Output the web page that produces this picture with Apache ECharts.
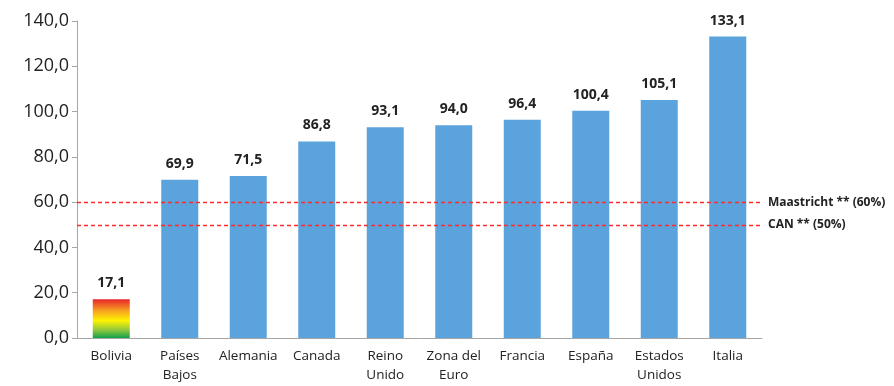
<!DOCTYPE html>
<html>
<head>
<meta charset="utf-8">
<script src="https://cdn.jsdelivr.net/npm/echarts@6/dist/echarts.min.js"></script>
<style>
  html, body { margin: 0; padding: 0; background: #fff; }
  #main { width: 894px; height: 386px; }
</style>
</head>
<body>
<div id="main"></div>
<script>
// categorías y valores (deuda / PIB, %)
const paises = ['Bolivia', 'Países\nBajos', 'Alemania', 'Canada', 'Reino\nUnido', 'Zona del\nEuro', 'Francia', 'España', 'Estados\nUnidos', 'Italia'];
const valores = [17.1, 69.9, 71.5, 86.8, 93.1, 94.0, 96.4, 100.4, 105.1, 133.1];
const limites = [
  { nombre: 'Maastricht ** (60%)', valor: 60 },
  { nombre: 'CAN ** (50%)', valor: 50 }
];

const fuente = '"Open Sans", "Liberation Sans", sans-serif';
const coma = v => v.toFixed(1).replace('.', ',');

const myChart = echarts.init(document.getElementById('main'));

const datos = valores.map((v, i) => {
  if (i === 0) {
    // Bolivia con los colores de la bandera
    return {
      value: v,
      itemStyle: {
        color: new echarts.graphic.LinearGradient(0, 0, 0, 1, [
          { offset: 0, color: '#e8262a' },
          { offset: 0.3, color: '#f6a31f' },
          { offset: 0.55, color: '#fff200' },
          { offset: 0.8, color: '#8cc63f' },
          { offset: 1, color: '#12a14b' }
        ])
      }
    };
  }
  return v;
});

// con ancho 1 o 1.2 la línea de 50 salía apagada, con 1.3 se ve roja
const linea = { color: '#ff2a2a', type: [4, 3], width: 1.3, opacity: 1 };

const option = {
  animation: false,
  grid: { left: 77, right: 132, top: 21, bottom: 48 },
  xAxis: {
    type: 'category',
    data: paises,
    axisLine: { lineStyle: { color: '#a6a6a6' } },
    axisTick: { length: 5, lineStyle: { color: '#a6a6a6' } },
    axisLabel: { color: '#222', fontSize: 13.5, fontFamily: fuente, lineHeight: 19, margin: 9, interval: 0 }
  },
  yAxis: {
    type: 'value',
    min: 0,
    max: 140,
    interval: 20,
    axisLine: { show: true, lineStyle: { color: '#a6a6a6' } },
    axisTick: { show: true, length: 5, lineStyle: { color: '#a6a6a6' } },
    splitLine: { show: false },
    axisLabel: { color: '#222', fontSize: 18, fontFamily: fuente, margin: 8, formatter: coma }
  },
  series: [{
    type: 'bar',
    data: datos,
    barWidth: 37,
    itemStyle: { color: '#5ba3dc' },
    label: {
      show: true,
      position: 'top',
      distance: 9,
      color: '#222',
      fontSize: 14,
      fontWeight: 'bold',
      fontFamily: fuente,
      formatter: p => coma(p.value)
    },
    markLine: {
      silent: true,
      symbol: 'none',
      lineStyle: linea,
      label: {
        position: 'end',
        color: '#222',
        fontSize: 12,
        fontWeight: 'bold',
        fontFamily: fuente,
        distance: 6,
        formatter: p => p.name
      },
      data: limites.map(l => ({ name: l.nombre, yAxis: l.valor, lineStyle: linea }))
    }
  }]
};

option && myChart.setOption(option);
</script>
</body>
</html>
